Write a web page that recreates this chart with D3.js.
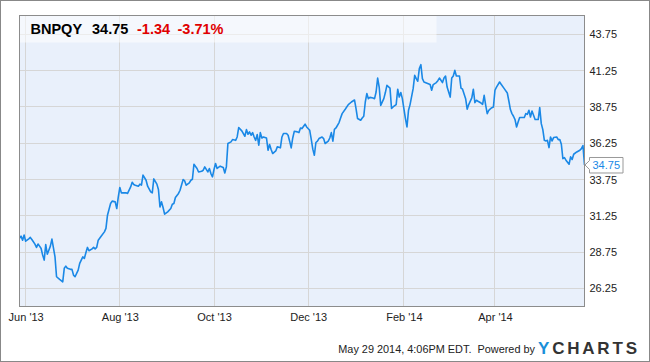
<!DOCTYPE html>
<html>
<head>
<meta charset="utf-8">
<title>BNPQY price chart</title>
<style>
  body { margin: 0; background: #fff; }
  svg text { font-family: "Liberation Sans", Arial, sans-serif; }
</style>
</head>
<body>
<svg width="650" height="362"></svg>
<script src="https://d3js.org/d3.v7.min.js"></script>
<script>

// price series
var dates = [
    "2013-05-28","2013-05-29","2013-05-30","2013-05-31","2013-06-01","2013-06-03","2013-06-04","2013-06-05","2013-06-07","2013-06-08",
    "2013-06-09","2013-06-10","2013-06-11","2013-06-12","2013-06-13","2013-06-14","2013-06-15","2013-06-16","2013-06-17","2013-06-18",
    "2013-06-20","2013-06-21","2013-06-23","2013-06-25","2013-06-26","2013-06-27","2013-06-28","2013-06-30","2013-07-01","2013-07-02",
    "2013-07-03","2013-07-05","2013-07-06","2013-07-07","2013-07-08","2013-07-09","2013-07-10","2013-07-11","2013-07-12","2013-07-14",
    "2013-07-15","2013-07-16","2013-07-17","2013-07-18","2013-07-20","2013-07-22","2013-07-23","2013-07-24","2013-07-26","2013-07-27",
    "2013-07-29","2013-07-30","2013-07-31","2013-08-01","2013-08-02","2013-08-05","2013-08-06","2013-08-08","2013-08-09","2013-08-10",
    "2013-08-11","2013-08-13","2013-08-14","2013-08-15","2013-08-16","2013-08-18","2013-08-19","2013-08-21","2013-08-22","2013-08-23",
    "2013-08-25","2013-08-26","2013-08-27","2013-08-28","2013-08-29","2013-08-30","2013-09-01","2013-09-03","2013-09-04","2013-09-05",
    "2013-09-06","2013-09-08","2013-09-09","2013-09-11","2013-09-12","2013-09-13","2013-09-15","2013-09-16","2013-09-17","2013-09-18",
    "2013-09-20","2013-09-21","2013-09-23","2013-09-24","2013-09-25","2013-09-27","2013-09-28","2013-09-29","2013-09-30","2013-10-01",
    "2013-10-02","2013-10-03","2013-10-05","2013-10-07","2013-10-08","2013-10-09","2013-10-10","2013-10-12","2013-10-13","2013-10-15",
    "2013-10-16","2013-10-17","2013-10-19","2013-10-21","2013-10-22","2013-10-23","2013-10-24","2013-10-25","2013-10-26","2013-10-27",
    "2013-10-28","2013-10-29","2013-10-30","2013-10-31","2013-11-01","2013-11-02","2013-11-04","2013-11-05","2013-11-06","2013-11-07",
    "2013-11-08","2013-11-10","2013-11-11","2013-11-13","2013-11-14","2013-11-15","2013-11-17","2013-11-18","2013-11-19","2013-11-20",
    "2013-11-21","2013-11-22","2013-11-24","2013-11-25","2013-11-26","2013-11-27","2013-11-29","2013-11-30","2013-12-02","2013-12-03",
    "2013-12-04","2013-12-05","2013-12-06","2013-12-07","2013-12-08","2013-12-10","2013-12-11","2013-12-12","2013-12-14","2013-12-15",
    "2013-12-16","2013-12-17","2013-12-18","2013-12-19","2013-12-21","2013-12-22","2013-12-23","2013-12-25","2013-12-27","2013-12-29",
    "2013-12-31","2014-01-01","2014-01-02","2014-01-04","2014-01-05","2014-01-06","2014-01-07","2014-01-08","2014-01-09","2014-01-10",
    "2014-01-12","2014-01-13","2014-01-14","2014-01-15","2014-01-16","2014-01-17","2014-01-19","2014-01-20","2014-01-21","2014-01-23",
    "2014-01-24","2014-01-25","2014-01-27","2014-01-28","2014-01-29","2014-01-30","2014-01-31","2014-02-01","2014-02-02","2014-02-03",
    "2014-02-04","2014-02-05","2014-02-07","2014-02-08","2014-02-09","2014-02-10","2014-02-11","2014-02-12","2014-02-13","2014-02-14",
    "2014-02-16","2014-02-18","2014-02-19","2014-02-20","2014-02-22","2014-02-23","2014-02-24","2014-02-26","2014-02-27","2014-02-28",
    "2014-03-01","2014-03-03","2014-03-04","2014-03-05","2014-03-06","2014-03-07","2014-03-09","2014-03-10","2014-03-11","2014-03-13",
    "2014-03-14","2014-03-15","2014-03-17","2014-03-18","2014-03-19","2014-03-20","2014-03-21","2014-03-23","2014-03-24","2014-03-25",
    "2014-03-26","2014-03-27","2014-03-28","2014-03-29","2014-03-30","2014-03-31","2014-04-01","2014-04-02","2014-04-04","2014-04-05",
    "2014-04-07","2014-04-09","2014-04-10","2014-04-11","2014-04-12","2014-04-13","2014-04-14","2014-04-15","2014-04-16","2014-04-17",
    "2014-04-19","2014-04-20","2014-04-21","2014-04-22","2014-04-23","2014-04-24","2014-04-25","2014-04-26","2014-04-27","2014-04-29",
    "2014-04-30","2014-05-01","2014-05-02","2014-05-03","2014-05-04","2014-05-05","2014-05-06","2014-05-07","2014-05-08","2014-05-09",
    "2014-05-11","2014-05-12","2014-05-13","2014-05-14","2014-05-15","2014-05-16","2014-05-17","2014-05-19","2014-05-20","2014-05-21",
    "2014-05-22","2014-05-24","2014-05-26","2014-05-27","2014-05-28","2014-05-29"
];

var prices = [
    29.69,29.85,29.57,29.92,29.50,29.66,29.76,29.62,29.30,29.07,
    29.30,29.16,29.00,28.54,28.20,29.27,28.61,28.88,29.16,29.64,
    28.42,27.05,26.87,26.70,27.63,27.78,27.63,27.56,27.56,27.16,
    27.05,27.51,27.97,28.20,28.42,28.31,28.70,29.07,28.84,28.97,
    29.07,28.97,29.07,29.57,29.85,30.14,30.38,31.29,32.10,32.26,
    32.21,31.75,32.55,33.20,32.83,32.83,32.79,33.24,33.56,33.41,
    33.36,33.29,33.43,33.36,34.05,33.70,33.29,32.90,32.83,33.79,
    33.43,33.06,31.86,32.21,31.82,31.36,31.52,31.75,32.05,32.10,
    32.51,32.79,33.01,33.75,33.65,33.36,33.52,33.70,33.77,34.80,
    34.51,34.27,34.32,34.39,34.62,34.27,34.51,34.16,33.93,34.44,
    34.85,34.51,34.67,34.58,34.20,34.62,36.23,36.34,36.50,36.45,
    36.68,37.33,37.10,36.73,37.19,36.87,37.03,36.80,36.98,36.68,
    36.45,36.85,36.11,36.98,36.61,36.68,36.61,35.77,36.16,35.82,
    35.54,35.72,36.00,35.93,36.68,36.92,36.92,36.80,36.39,35.93,
    36.61,37.07,37.03,36.98,37.30,37.26,37.56,37.37,37.14,36.52,
    35.84,35.42,36.30,36.39,36.57,36.68,36.57,36.23,36.39,36.61,
    36.98,36.39,37.21,37.30,37.67,37.99,38.29,38.59,38.91,39.09,
    39.23,38.64,37.95,37.83,37.99,38.11,39.09,39.67,39.32,39.41,
    39.37,39.32,39.78,40.74,40.12,38.86,39.32,39.74,40.24,40.05,
    38.64,38.75,38.91,39.97,39.43,39.74,39.32,38.64,37.95,37.37,
    38.52,38.91,40.01,40.93,40.70,40.52,41.39,41.66,40.70,40.47,
    40.38,40.29,39.90,40.29,40.43,40.56,40.74,40.43,40.74,40.88,
    40.12,39.43,40.74,40.88,41.27,40.88,40.88,40.05,39.97,39.32,
    38.59,38.91,39.37,39.97,39.05,39.21,39.14,39.02,38.93,39.55,
    38.86,38.29,38.52,38.61,38.70,38.75,39.90,40.12,40.47,40.31,
    40.01,39.71,39.16,38.57,38.29,38.11,37.88,37.37,37.71,38.02,
    38.02,38.02,38.29,38.24,38.52,38.06,38.47,38.17,37.88,37.88,
    38.70,37.60,37.19,36.45,36.41,36.45,35.95,36.68,36.41,36.64,
    36.68,36.50,36.50,36.18,35.19,35.26,35.08,34.80,35.31,35.13,
    35.49,35.65,35.77,35.88,36.09,34.75
];

var yTicks = [26.25, 28.75, 31.25, 33.75, 36.25, 38.75, 41.25, 43.75];
var xTickDates = ["2013-06-01", "2013-08-01", "2013-10-01", "2013-12-01", "2014-02-01", "2014-04-01"];
var xTickLabels = ["Jun '13", "Aug '13", "Oct '13", "Dec '13", "Feb '14", "Apr '14"];

var ticker = "BNPQY", lastPrice = "34.75", change = "-1.34", changePct = "-3.71%";
var stamp = "May 29 2014, 4:06PM EDT.  Powered by";

var svg = d3.select("svg"),
    W = +svg.attr("width"),
    H = +svg.attr("height"),
    margin = { top: 15.5, right: 65.5, bottom: 55.5, left: 19.5 },
    width = W - margin.left - margin.right,
    height = H - margin.top - margin.bottom;

var parse = d3.timeParse("%Y-%m-%d");
var data = dates.map(function (d, i) { return { date: parse(d), value: prices[i] }; });

var x = d3.scaleTime()
    .domain(d3.extent(data, function (d) { return d.date; }))
    .range([0, width]);

var y = d3.scaleLinear()
    .domain([25, 45.05])
    .range([height, 0]);

// outer frame
svg.append("rect")
    .attr("x", 0.5).attr("y", 0.5)
    .attr("width", W - 1).attr("height", H - 1)
    .attr("fill", "#fff").attr("stroke", "#888");

var g = svg.append("g").attr("transform", "translate(" + margin.left + "," + margin.top + ")");

g.append("rect")
    .attr("width", width).attr("height", height)
    .attr("fill", "#e9f0fb");

// grid
g.append("g").selectAll("line")
    .data(yTicks)
    .enter().append("line")
    .attr("x1", 0).attr("x2", width)
    .attr("y1", function (d) { return Math.round(y(d)); })
    .attr("y2", function (d) { return Math.round(y(d)); })
    .attr("stroke", "#d6d6d6");

g.append("g").selectAll("line")
    .data(xTickDates)
    .enter().append("line")
    .attr("x1", function (d) { return Math.round(x(parse(d))); })
    .attr("x2", function (d) { return Math.round(x(parse(d))); })
    .attr("y1", 0).attr("y2", height)
    .attr("stroke", "#d6d6d6");

// header band
g.append("rect")
    .attr("width", 417).attr("height", 27)
    .attr("fill", "#fff").attr("fill-opacity", 0.55);

var line = d3.line()
    .x(function (d) { return x(d.date); })
    .y(function (d) { return y(d.value); });

g.append("path")
    .datum(data)
    .attr("fill", "none")
    .attr("stroke", "#1a88e6")
    .attr("stroke-width", 1.6)
    .attr("stroke-linejoin", "round")
    .attr("d", line);

g.append("rect")
    .attr("width", width).attr("height", height)
    .attr("fill", "none").attr("stroke", "#8c8c8c");

// axes
var yAxis = g.append("g")
    .attr("transform", "translate(" + width + ",0)")
    .call(d3.axisRight(y).tickValues(yTicks).tickFormat(d3.format(".2f")).tickSize(0).tickPadding(5));
yAxis.select(".domain").remove();
yAxis.selectAll("text").attr("font-size", "11px").attr("fill", "#222").style("font-family", "Liberation Sans, Arial, sans-serif");

var xAxis = g.append("g")
    .attr("transform", "translate(0," + height + ")")
    .call(d3.axisBottom(x).tickValues(xTickDates.map(parse))
        .tickFormat(function (d, i) { return xTickLabels[i]; })
        .tickSize(0).tickPadding(7));
xAxis.select(".domain").remove();
xAxis.selectAll("text").attr("font-size", "11px").attr("fill", "#222").style("font-family", "Liberation Sans, Arial, sans-serif");

// title
var title = svg.append("text")
    .attr("x", 30.5).attr("y", 34)
    .attr("font-size", "14.5px").attr("font-weight", "bold");
title.append("tspan").attr("fill", "#000").text(ticker);
title.append("tspan").attr("x", 92).attr("fill", "#000").text(lastPrice);
title.append("tspan").attr("x", 137).attr("fill", "#e00000").text(change);
title.append("tspan").attr("x", 177.5).attr("fill", "#e00000").text(changePct);

// last price flag
var last = data[data.length - 1];
var ly = margin.top + y(last.value);
var fx = margin.left + width;
svg.append("path")
    .attr("d", "M" + (fx + 0.5) + "," + ly + "L" + (fx + 5) + "," + (ly - 4.5) + "V" + (ly - 7.5) + "H" + (fx + 38.5) +
        "V" + (ly + 8) + "H" + (fx + 5) + "V" + (ly + 4.5) + "Z")
    .attr("fill", "#fff").attr("stroke", "#999");
svg.append("text")
    .attr("x", fx + 8).attr("y", ly + 4)
    .attr("font-size", "11px").attr("fill", "#1a88e6")
    .text(lastPrice);

// footer
svg.append("text")
    .attr("x", 535).attr("y", 353)
    .attr("text-anchor", "end")
    .attr("font-size", "10.9px").attr("fill", "#222")
    .style("white-space", "pre")
    .text(stamp);

var logo = svg.append("text")
    .attr("x", 538).attr("y", 354)
    .attr("font-size", "17px").attr("font-weight", "bold")
    .attr("letter-spacing", "2.8px");
logo.append("tspan").attr("fill", "#1a8fd9").text("Y");
logo.append("tspan").attr("fill", "#333").text("CHARTS");

</script>
</body>
</html>
